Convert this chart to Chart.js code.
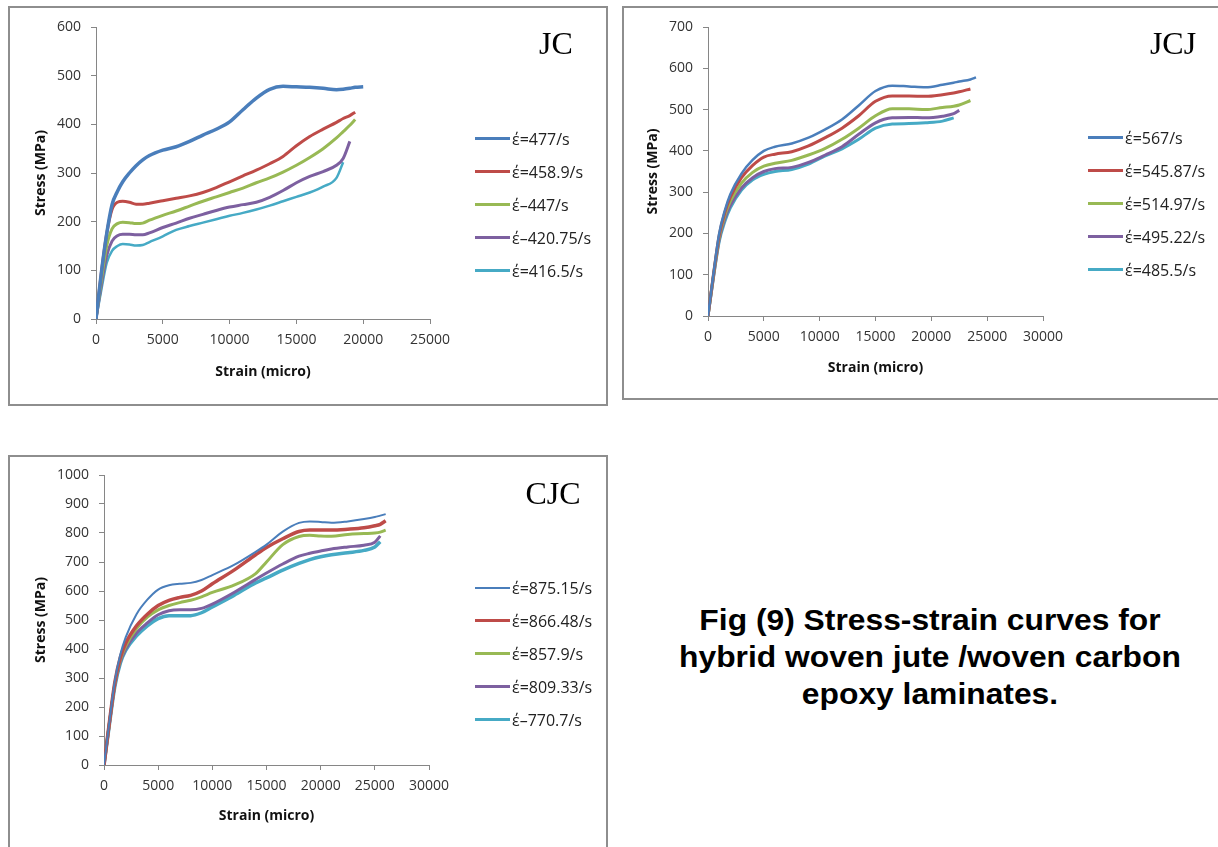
<!DOCTYPE html>
<html>
<head>
<meta charset="utf-8">
<script src="https://cdn.jsdelivr.net/npm/chart.js@4.4.1/dist/chart.umd.min.js"></script>
<style>
  body { margin: 0; width: 1218px; height: 847px; background: #fff; position: relative; overflow: hidden; }
  .box { position: absolute; border: 2px solid #8e8e8e; box-sizing: border-box; }
  canvas { position: absolute; }
  .tag { position: absolute; font-family: "Liberation Serif", serif; font-size: 32px; color: #000; transform: translate(-50%, -50%); white-space: nowrap; }
  .legend { position: absolute; font-family: "Open Sans", sans-serif; font-size: 16px; color: #222; }
  .legend .row { height: 33px; display: flex; align-items: center; white-space: nowrap; }
  .legend .swatch { width: 35px; margin-right: 2px; }
  #caption { position: absolute; left: 640px; width: 580px; top: 601px; text-align: center;
             font-family: "Liberation Sans", Arial, sans-serif; font-weight: bold; font-size: 30px; line-height: 37px; color: #000;
             transform: scaleX(1.06); transform-origin: 50% 50%; }
</style>
</head>
<body>
<div class="box" style="left:8px;top:6px;width:600px;height:400px"></div>
<div class="box" style="left:622px;top:6px;width:620px;height:394px"></div>
<div class="box" style="left:8px;top:455px;width:600px;height:420px"></div>

<canvas id="chart-jc" width="600" height="400" style="left:8px;top:6px"></canvas>
<canvas id="chart-jcj" width="596" height="394" style="left:622px;top:6px"></canvas>
<canvas id="chart-cjc" width="600" height="392" style="left:8px;top:455px"></canvas>

<div class="tag" style="left:556px;top:43px">JC</div>
<div class="tag" style="left:1173px;top:43px">JCJ</div>
<div class="tag" style="left:553px;top:493px">CJC</div>

<div class="legend" id="legend-jc" style="left:475px;top:122px"></div>
<div class="legend" id="legend-jcj" style="left:1088px;top:121px"></div>
<div class="legend" id="legend-cjc" style="left:475px;top:571px"></div>

<div id="caption">Fig (9) Stress-strain curves for<br>hybrid woven jute /woven carbon<br>epoxy laminates.</div>

<script>
// Stress-strain curves, three laminates

const COLORS = ['#4a7ebb', '#be4b48', '#98b954', '#7d60a0', '#46aac5'];

// JC laminate
const jcStrain = [0, 400, 800, 1200, 1600, 2000, 2500, 3000, 3500, 4000, 5000, 6000, 7000, 8000, 9000, 10000,
    11000, 12000, 13000, 14000, 15000, 16000, 17000, 18000, 18500, 19000, 19400, 20000];
const jcLabels = ['έ=477/s', 'έ=458.9/s', 'έ–447/s', 'έ–420.75/s', 'έ=416.5/s'];
const jc477 = [0, 95, 175, 235, 262, 282, 300, 315, 327, 336, 347, 354, 365, 378, 390, 405,
    430, 454, 472, 478, 477, 476, 474, 471, 472, 474, 476, 477];
const jc458 = [0, 95, 175, 225, 240, 242, 240, 236, 236, 238, 243, 248, 253, 260, 270, 282,
    294, 306, 319, 334, 356, 375, 390, 404, 412, 418, 425, null];
const jc447 = [0, 80, 150, 185, 196, 199, 198, 196, 197, 203, 213, 222, 232, 242, 251, 260,
    269, 280, 290, 302, 316, 332, 350, 372, 385, 398, 410, null];
const jc420 = [0, 70, 130, 160, 171, 174, 174, 173, 173, 177, 188, 197, 207, 215, 223, 230,
    235, 240, 250, 264, 280, 293, 303, 316, 330, 365, null, null];
const jc416 = [0, 60, 115, 140, 150, 154, 153, 151, 152, 158, 170, 183, 191, 198, 205, 212,
    218, 225, 233, 242, 251, 260, 272, 290, 322, null, null, null];

// JCJ laminate
const jcjStrain = [0, 500, 1000, 1500, 2000, 3000, 4000, 5000, 6000, 7500, 9000, 10500, 12000,
    13500, 15000, 16500, 18000, 19500, 21000, 22000, 22500, 23500, 24000];
const jcjLabels = ['έ=567/s', 'έ=545.87/s', 'έ=514.97/s', 'έ=495.22/s', 'έ=485.5/s'];
const jcj567 = [0, 105, 200, 255, 295, 345, 378, 400, 410, 418, 432, 452, 476,
    510, 545, 558, 556, 554, 560, 565, 568, 573, 578];
const jcj545 = [0, 103, 195, 250, 288, 335, 365, 385, 392, 398, 412, 432, 455,
    485, 520, 533, 533, 532, 536, 540, 543, 550, null];
const jcj514 = [0, 100, 190, 243, 278, 322, 348, 363, 370, 377, 390, 406, 428,
    455, 485, 502, 502, 500, 505, 508, 511, 522, null];
const jcj495 = [0, 97, 185, 235, 268, 310, 335, 350, 357, 360, 372, 390, 410,
    440, 468, 480, 481, 480, 484, 490, 498, null, null];
const jcj485 = [0, 95, 180, 228, 262, 305, 330, 343, 350, 355, 368, 388, 405,
    428, 455, 465, 466, 468, 472, 480, null, null, null];

// CJC laminate
const cjcStrain = [0, 500, 1000, 1500, 2000, 3000, 4000, 5000, 6000, 7000, 8000, 9000, 10000,
    12000, 14000, 15000, 16500, 18000, 19000, 20000, 21000, 22500, 24000, 25000, 25500, 26000];
const cjcLabels = ['έ=875.15/s', 'έ=866.48/s', 'έ=857.9/s', 'έ=809.33/s', 'έ–770.7/s'];
const cjc875 = [0, 150, 290, 380, 440, 520, 570, 605, 620, 625, 628, 638, 655,
    690, 735, 760, 805, 835, 840, 838, 835, 840, 848, 855, 860, 865];
const cjc866 = [0, 148, 285, 370, 420, 480, 520, 550, 568, 578, 585, 600, 625,
    672, 725, 750, 780, 805, 810, 810, 810, 813, 818, 825, 830, 842];
const cjc857 = [0, 145, 280, 362, 410, 470, 510, 535, 550, 560, 568, 580, 595,
    620, 660, 700, 760, 788, 792, 790, 789, 795, 798, 800, 803, 810];
const cjc809 = [0, 142, 275, 355, 400, 455, 490, 518, 532, 535, 535, 540, 555,
    595, 640, 662, 693, 720, 730, 738, 745, 752, 758, 768, 790, null];
const cjc770 = [0, 140, 270, 350, 395, 445, 480, 505, 515, 515, 515, 525, 545,
    585, 628, 645, 672, 695, 708, 718, 725, 732, 740, 752, 770, null];

function toPoints(xs, ys) {
    return xs.map((x, i) => ({ x: x, y: ys[i] }));
}

function renderStrainChart(canvasId, legendId, opt) {
    const ctx = document.getElementById(canvasId);
    if (!ctx) return;

    const datasets = opt.series.map((ys, i) => ({
        label: opt.labels[i],
        data: toPoints(opt.strain, ys),
        borderColor: COLORS[i],
        backgroundColor: COLORS[i],
        borderWidth: opt.widths[i],
        pointRadius: 0,
        tension: 0.4,
        cubicInterpolationMode: 'monotone',
        fill: false,
    }));

    const axisColor = '#868686';
    const tickFont = { family: 'Open Sans', size: 14 };
    const titleFont = { family: 'Open Sans', size: 14, weight: 'bold' };
    const plain = (v) => String(v);   // no thousands separator

    new Chart(ctx.getContext('2d'), {
        type: 'line',
        data: { datasets: datasets },
        options: {
            responsive: false,
            animation: false,
            devicePixelRatio: 1,
            layout: { padding: opt.padding },
            plugins: { legend: { display: false }, tooltip: { enabled: false } },
            scales: {
                x: {
                    type: 'linear',
                    min: 0,
                    max: opt.xMax,
                    afterFit: (s) => { s.height = 70; },
                    ticks: { stepSize: 5000, color: '#333', font: tickFont, padding: 8, maxRotation: 0, callback: plain },
                    grid: { drawOnChartArea: false, drawTicks: true, tickLength: 5, color: axisColor },
                    border: { color: axisColor },
                    title: { display: true, text: 'Strain (micro)', color: '#111', font: titleFont,
                             padding: { top: 0, bottom: opt.xTitlePad } },
                },
                y: {
                    min: 0,
                    max: opt.yMax,
                    afterFit: (s) => { s.width = opt.yWidth; },
                    ticks: { stepSize: 100, color: '#333', font: tickFont, padding: 10, callback: plain },
                    grid: { drawOnChartArea: false, drawTicks: true, tickLength: 5, color: axisColor },
                    border: { color: axisColor },
                    title: { display: true, text: 'Stress (MPa)', color: '#111', font: titleFont,
                             padding: { top: opt.yTitlePad, bottom: 0 } },
                },
            },
        },
    });

    // legend, built from the datasets
    const legend = document.getElementById(legendId);
    datasets.forEach((ds) => {
        const row = document.createElement('div');
        row.className = 'row';
        const sw = document.createElement('span');
        sw.className = 'swatch';
        sw.style.height = ds.borderWidth + 'px';
        sw.style.background = ds.borderColor;
        const txt = document.createElement('span');
        txt.textContent = ds.label;
        row.appendChild(sw);
        row.appendChild(txt);
        legend.appendChild(row);
    });
}

renderStrainChart('chart-jc', 'legend-jc', {
    strain: jcStrain, labels: jcLabels,
    series: [jc477, jc458, jc447, jc420, jc416],
    widths: [3.5, 3, 3, 3, 2.5],
    xMax: 25000, yMax: 600,
    padding: { left: 10, right: 178, top: 21, bottom: 17 },
    yWidth: 78, yTitlePad: 14.6, xTitlePad: 8.6,
});

renderStrainChart('chart-jcj', 'legend-jcj', {
    strain: jcjStrain, labels: jcjLabels,
    series: [jcj567, jcj545, jcj514, jcj495, jcj485],
    widths: [2.5, 3, 3, 3, 3],
    xMax: 30000, yMax: 700,
    padding: { left: 10, right: 175, top: 21, bottom: 14 },
    yWidth: 76, yTitlePad: 12.6, xTitlePad: 9.6,
});

renderStrainChart('chart-cjc', 'legend-cjc', {
    strain: cjcStrain, labels: cjcLabels,
    series: [cjc875, cjc866, cjc857, cjc809, cjc770],
    widths: [2, 3.5, 3, 3, 3.5],
    xMax: 30000, yMax: 1000,
    padding: { left: 10, right: 179, top: 20, bottom: 12 },
    yWidth: 86, yTitlePad: 14.6, xTitlePad: 10.6,
});
</script>
</body>
</html>
